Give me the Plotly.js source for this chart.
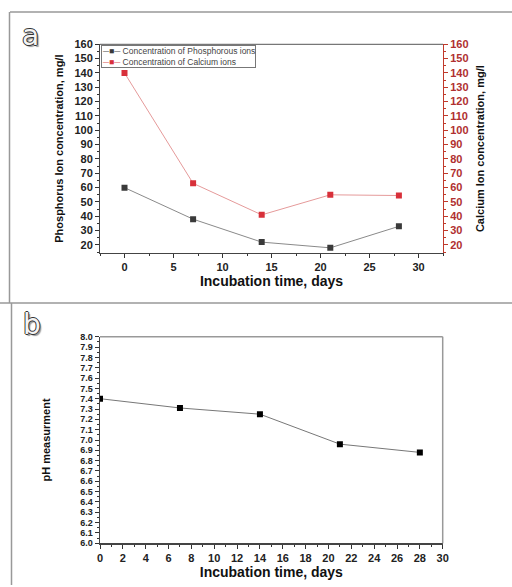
<!DOCTYPE html>
<html>
<head>
<meta charset="utf-8">
<script src="https://cdn.plot.ly/plotly-3.0.1.min.js"></script>
<style>html,body{margin:0;padding:0;background:#fff;}#chart{width:512px;height:587px;}</style>
</head>
<body>
<div id="chart"></div>
<script>
// Data
const days = [0, 7, 14, 21, 28];
const phosphorus = [60, 38, 22, 18, 33];
const calcium = [140, 63, 41, 55, 54.5];
const ph = [7.4, 7.31, 7.25, 6.96, 6.88];
const phName = 'Concentration of Phosphorous ions';
const caName = 'Concentration of Calcium ions';
const concTicks = [20, 30, 40, 50, 60, 70, 80, 90, 100, 110, 120, 130, 140, 150, 160];

const W = 512, H = 587;
const px = v => v / W;
const py = v => 1 - v / H;

const FAM = 'Liberation Sans, Arial, sans-serif';
const tickFont = {family: FAM, size: 11, color: '#222', weight: 'bold'};
const phTickFont = {family: FAM, size: 9, color: '#222', weight: 'bold'};
const titleFont = {family: FAM, size: 11, color: '#111', weight: 'bold'};
const xTitleFont = {family: FAM, size: 14, color: '#111', weight: 'bold'};
const red = '#c0392b';
const phColor = '#3a3a3a', caColor = '#d8303a';

const traces = [
  {x: days, y: phosphorus, name: phName, type: 'scatter', mode: 'lines+markers',
   line: {color: '#8a8a8a', width: 1}, marker: {symbol: 'square', size: 6, color: phColor},
   xaxis: 'x', yaxis: 'y'},
  {x: days, y: calcium, name: caName, type: 'scatter', mode: 'lines+markers',
   line: {color: '#e59a9a', width: 1}, marker: {symbol: 'square', size: 6, color: caColor},
   xaxis: 'x', yaxis: 'y2'},
  {x: days, y: ph, name: 'pH', type: 'scatter', mode: 'lines+markers',
   line: {color: '#777', width: 1}, marker: {symbol: 'square', size: 6, color: '#000'},
   xaxis: 'x3', yaxis: 'y3'}
];

const legendText =
  '<span style="color:#666">─</span><span style="color:' + phColor + '">■</span><span style="color:#666">─</span> ' + phName +
  '<br><span style="color:#e07070">─</span><span style="color:' + caColor + '">■</span><span style="color:#e07070">─</span> ' + caName;

const layout = {
  width: W, height: H,
  margin: {l: 0, r: 0, t: 0, b: 0},
  paper_bgcolor: '#fff', plot_bgcolor: '#fff',
  showlegend: false,
  xaxis: {domain: [px(100), px(443)], range: [-2.5, 32.5], anchor: 'y',
    tickvals: [0, 5, 10, 15, 20, 25, 30], ticks: 'outside', ticklen: 4, tickwidth: 1, tickcolor: '#333',
    minor: {tickvals: [-2.5, 2.5, 7.5, 12.5, 17.5, 22.5, 27.5, 32.5], ticks: 'outside', ticklen: 2, tickcolor: '#333'},
    showgrid: false, zeroline: false, showline: true, linecolor: '#444', linewidth: 1,
    tickfont: tickFont, title: {text: 'Incubation time, days', font: xTitleFont, standoff: 2}},
  yaxis: {domain: [py(253), py(44.3)], range: [14.4, 160], anchor: 'x',
    tickvals: concTicks, ticks: 'outside', ticklen: 4, tickcolor: '#333',
    minor: {dtick: 5, tick0: 15, ticks: 'outside', ticklen: 2, tickcolor: '#333'},
    showgrid: false, zeroline: false, showline: true, linecolor: '#444', linewidth: 1,
    tickfont: tickFont, title: {text: 'Phosphorus Ion concentration, mg/l', font: titleFont, standoff: 8}},
  yaxis2: {overlaying: 'y', side: 'right', range: [14.4, 160], anchor: 'x',
    tickvals: concTicks, ticks: 'outside', ticklen: 4, tickcolor: red,
    minor: {dtick: 5, tick0: 15, ticks: 'outside', ticklen: 2, tickcolor: red},
    showgrid: false, zeroline: false, showline: true, linecolor: red, linewidth: 1,
    tickfont: Object.assign({}, tickFont, {color: '#b03030'}),
    title: {text: 'Calcium Ion concentration, mg/l', font: titleFont, standoff: 8}},
  xaxis3: {domain: [px(100), px(442.7)], range: [0, 30], anchor: 'y3',
    dtick: 2, tick0: 0, ticks: 'outside', ticklen: 4, tickcolor: '#333',
    minor: {dtick: 1, ticks: 'outside', ticklen: 2, tickcolor: '#333'},
    showgrid: false, zeroline: false, showline: true, linecolor: '#444', linewidth: 1.5,
    tickfont: tickFont, title: {text: 'Incubation time, days', font: xTitleFont, standoff: 3}},
  yaxis3: {domain: [py(543.3), py(336.7)], range: [6.0, 8.0], anchor: 'x3',
    dtick: 0.1, tick0: 6, tickformat: '.1f', ticks: 'outside', ticklen: 4, tickcolor: '#333',
    minor: {dtick: 0.05, ticks: 'outside', ticklen: 2, tickcolor: '#333'},
    showgrid: false, zeroline: false, showline: true, linecolor: '#444', linewidth: 1.5,
    tickfont: phTickFont, title: {text: 'pH measurment', font: titleFont, standoff: 27}},
  shapes: [
    {type: 'line', xref: 'paper', yref: 'paper', x0: px(10), x1: 1, y0: py(12), y1: py(12), line: {color: '#999', width: 1.5}},
    {type: 'line', xref: 'paper', yref: 'paper', x0: px(9.5), x1: px(9.5), y0: py(12), y1: py(303), line: {color: '#999', width: 1.5}},
    {type: 'line', xref: 'paper', yref: 'paper', x0: 0, x1: 1, y0: py(303), y1: py(303), line: {color: '#999', width: 1.5}},
    {type: 'line', xref: 'paper', yref: 'paper', x0: px(11.5), x1: px(11.5), y0: py(303), y1: py(585), line: {color: '#999', width: 1.5}},
    {type: 'line', xref: 'paper', yref: 'paper', x0: px(100), x1: px(443), y0: py(44.3), y1: py(44.3), line: {color: '#555', width: 1}},
    {type: 'line', xref: 'paper', yref: 'paper', x0: px(100), x1: px(442.7), y0: py(336.7), y1: py(336.7), line: {color: '#999', width: 1.5}},
    {type: 'line', xref: 'paper', yref: 'paper', x0: px(442.7), x1: px(442.7), y0: py(336.7), y1: py(543.3), line: {color: '#999', width: 1.5}}
  ],
  annotations: [
    {text: legendText, xref: 'paper', yref: 'paper', x: px(100.5), y: py(45), xanchor: 'left', yanchor: 'top',
     align: 'left', showarrow: false, bgcolor: '#fff', bordercolor: '#777', borderwidth: 1, borderpad: 0,
     font: {family: FAM, size: 8.5, color: '#444'}},
    {text: 'a', xref: 'paper', yref: 'paper', x: px(30), y: py(35), xanchor: 'center', yanchor: 'middle', showarrow: false,
     font: {family: 'DejaVu Sans, sans-serif', size: 28, color: '#f4f4f4',
       shadow: '1px 0 0 #333, -1px 0 0 #333, 0 1px 0 #333, 0 -1px 0 #333, 2px 2px 1px #999'}},
    {text: 'b', xref: 'paper', yref: 'paper', x: px(32), y: py(324), xanchor: 'center', yanchor: 'middle', showarrow: false,
     font: {family: 'DejaVu Sans, sans-serif', size: 28, color: '#f4f4f4',
       shadow: '1px 0 0 #333, -1px 0 0 #333, 0 1px 0 #333, 0 -1px 0 #333, 2px 2px 1px #999'}}
  ]
};

Plotly.newPlot('chart', traces, layout, {staticPlot: true, displayModeBar: false});
</script>
</body>
</html>
